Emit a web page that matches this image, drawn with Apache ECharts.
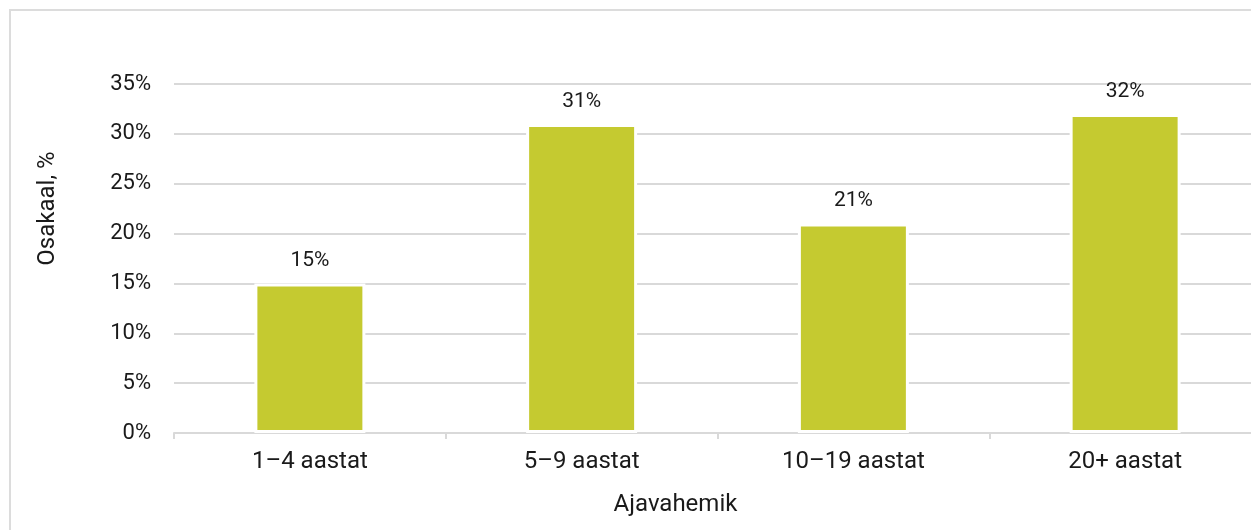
<!DOCTYPE html>
<html><head><meta charset="utf-8">
<script src="https://cdn.jsdelivr.net/npm/echarts@6/dist/echarts.min.js"></script>
<style>
html,body{margin:0;padding:0;width:1251px;height:530px;overflow:hidden;background:#fff;}
#frame{position:absolute;left:9px;top:9px;width:1300px;height:600px;border:2px solid #dcdcdc;}
#chart{width:1300px;height:600px;}
</style></head>
<body><div id="frame"><div id="chart"></div></div>
<script>
const categories = ['1–4 aastat', '5–9 aastat', '10–19 aastat', '20+ aastat'];
const shares = [15, 31, 21, 32];
const yTicks = { min: 0, max: 35, interval: 5 };

const chart = echarts.init(document.getElementById('chart'), null, {renderer: 'canvas'});
const font = 'Roboto, "Noto Sans", sans-serif';
chart.setOption({
  animation: false,
  textStyle: { fontFamily: font },
  grid: { left: 163, top: 73, width: 1087, height: 349, containLabel: false },
  xAxis: {
    type: 'category',
    data: categories,
    name: 'Ajavahemik',
    nameLocation: 'middle',
    nameGap: 60,
    nameTextStyle: { fontSize: 24, color: '#1a1a1a', fontFamily: font, padding: [0, 84, 0, 0] },
    axisLine: { show: true, lineStyle: { color: '#d9d9d9', width: 2 } },
    axisTick: { show: true, alignWithLabel: false, length: 6, lineStyle: { color: '#d9d9d9', width: 2 } },
    axisLabel: { fontSize: 24, color: '#1a1a1a', margin: 17, fontFamily: font },
    splitLine: { show: false }
  },
  yAxis: {
    type: 'value',
    min: yTicks.min, max: yTicks.max, interval: yTicks.interval,
    name: 'Osakaal, %',
    nameLocation: 'middle',
    nameGap: 114,
    nameRotate: 90,
    nameTextStyle: { fontSize: 24, color: '#1a1a1a', fontFamily: font, padding: [0, 0, 0, 100] },
    axisLine: { show: false },
    axisTick: { show: false },
    axisLabel: { fontSize: 22, color: '#1a1a1a', margin: 23, formatter: v => v + '%', fontFamily: font },
    splitLine: { show: true, lineStyle: { color: '#d9d9d9', width: 2 } }
  },
  series: [{
    type: 'bar',
    data: shares,
    barWidth: 111,
    itemStyle: { color: '#c5ca30', borderColor: '#ffffff', borderWidth: 3 },
    label: {
      show: true, position: 'top', distance: 12,
      formatter: p => p.value + '%',
      fontSize: 21, color: '#1a1a1a', fontFamily: font
    }
  }]
});
</script></body></html>
